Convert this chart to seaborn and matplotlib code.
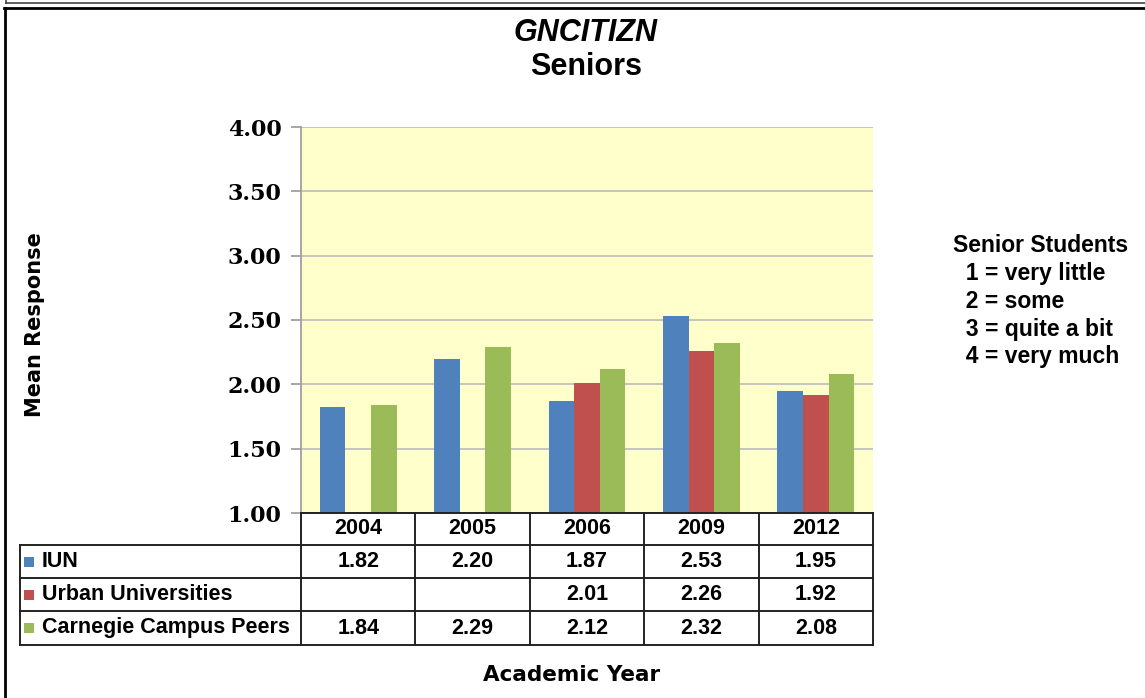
import matplotlib
matplotlib.use('Agg')
import matplotlib.pyplot as plt
import matplotlib.transforms as mtransforms
from matplotlib.lines import Line2D
from matplotlib.patches import Rectangle
import numpy as np
import pandas as pd
import seaborn as sns

# Data
years = ['2004', '2005', '2006', '2009', '2012']
groups = ['IUN', 'Urban Universities', 'Carnegie Campus Peers']
iun = [1.82, 2.20, 1.87, 2.53, 1.95]
urban = [np.nan, np.nan, 2.01, 2.26, 1.92]
carnegie = [1.84, 2.29, 2.12, 2.32, 2.08]
colors = ['#4F81BD', '#C0504D', '#9BBB59']
scale_lines = ['Senior Students', '  1 = very little', '  2 = some',
               '  3 = quite a bit', '  4 = very much']

df = pd.DataFrame({
    'year': years * 3,
    'group': np.repeat(groups, len(years)),
    'value': iun + urban + carnegie,
})

W, H = 1145, 698
fig = plt.figure(figsize=(W / 100, H / 100), dpi=100)
fig.patch.set_facecolor('white')


def fx(px):
    return px / W


def fy(py):
    return 1 - py / H


# Plot area
ax = fig.add_axes([fx(301), fy(513), fx(873) - fx(301), fy(127) - fy(513)])
ax.set_facecolor('#FFFFCC')
sns.barplot(data=df, x='year', y='value', hue='group', order=years,
            hue_order=groups, palette=colors, saturation=1, width=0.67,
            gap=0, errorbar=None, legend=False, linewidth=0, ax=ax)

ax.set_xlim(-0.5, len(years) - 0.5)
ax.set_ylim(1, 4)
yt = np.arange(1, 4.01, 0.5)
ax.set_yticks(yt)
ax.set_yticklabels(['%.2f' % v for v in yt], family='DejaVu Serif',
                   fontweight='bold', fontsize=16)
ax.set_xticks([])
ax.set_xlabel('')
ax.set_ylabel('')
ax.grid(axis='y', color='#C0C0C0', linewidth=1.3)
ax.set_axisbelow(True)
ax.tick_params(axis='y', length=7, color='#A0A0A0', width=1.3, pad=7)
for s in ['top', 'right', 'bottom']:
    ax.spines[s].set_visible(False)
ax.spines['left'].set_color('#A0A0A0')
ax.spines['left'].set_linewidth(1.3)

# Titles
fig.text(fx(586), fy(33), 'GNCITIZN', ha='center', va='center',
         family='Liberation Sans', fontweight='bold', style='italic', fontsize=22)
fig.text(fx(586), fy(67), 'Seniors', ha='center', va='center',
         family='Liberation Sans', fontweight='bold', fontsize=22)
fig.text(fx(35), fy(325), 'Mean Response', rotation=90, ha='center',
         va='center', family='DejaVu Sans', fontweight='bold', fontsize=15)
fig.text(fx(572), fy(675), 'Academic Year', ha='center', va='center',
         family='DejaVu Sans', fontweight='bold', fontsize=15.5)

# Scale description at right
for i, line in enumerate(scale_lines):
    fig.text(fx(953), fy(246 + i * 27.7), line, ha='left', va='center',
             family='Liberation Sans', fontweight='bold', fontsize=16.5)

# Data table under the plot
trans = mtransforms.blended_transform_factory(ax.transData, fig.transFigure)
row_y = [513, 545, 578, 611, 645]
line_kw = dict(color='#222222', linewidth=1.4)
for i in range(len(years) + 1):
    fig.add_artist(Line2D([i - 0.5, i - 0.5], [fy(row_y[0]), fy(row_y[-1])],
                          transform=trans, **line_kw))
fig.add_artist(Line2D([-0.5, len(years) - 0.5], [fy(row_y[0])] * 2,
                      transform=trans, **line_kw))
for y in row_y[1:]:
    fig.add_artist(Line2D([fx(20), fx(873)], [fy(y)] * 2, **line_kw))
fig.add_artist(Line2D([fx(20), fx(20)], [fy(row_y[1]), fy(row_y[-1])], **line_kw))

txt_kw = dict(family='Liberation Sans', fontweight='bold', fontsize=15.5,
              ha='center', va='center')
for i, yr in enumerate(years):
    fig.text(i, fy((row_y[0] + row_y[1]) / 2), yr, transform=trans, **txt_kw)

for r, (g, vals, c) in enumerate(zip(groups, [iun, urban, carnegie], colors)):
    yc = (row_y[r + 1] + row_y[r + 2]) / 2
    fig.add_artist(Rectangle((fx(24), fy(yc + 5)), fx(10), fy(yc - 5) - fy(yc + 5),
                             facecolor=c, edgecolor='none'))
    fig.text(fx(42), fy(yc), g, ha='left', va='center', family='Liberation Sans',
             fontweight='bold', fontsize=15.5)
    for i, v in enumerate(vals):
        if not np.isnan(v):
            fig.text(i, fy(yc), '%.2f' % v, transform=trans, **txt_kw)

# Outer frame (cropped screenshot borders)
fig.add_artist(Line2D([fx(6), fx(W)], [fy(2.5)] * 2, color='#444444', linewidth=1.2))
fig.add_artist(Line2D([fx(6), fx(6)], [fy(0), fy(2.5)], color='#444444', linewidth=1.2))
fig.add_artist(Line2D([fx(4), fx(W)], [fy(8)] * 2, color='black', linewidth=2))
fig.add_artist(Line2D([fx(5), fx(5)], [fy(8), fy(H)], color='black', linewidth=2))

fig.savefig('out.png', dpi=100)
